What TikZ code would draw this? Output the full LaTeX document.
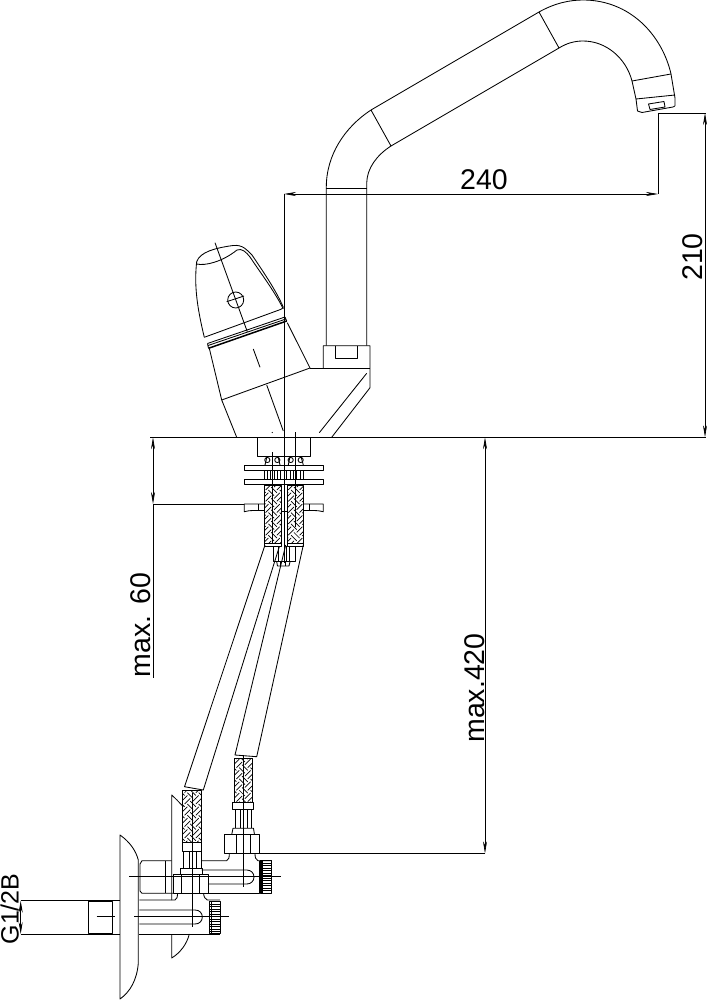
\documentclass[tikz,border=0pt]{standalone}
\usepackage{fontspec}
\setmainfont{Liberation Sans}
\usetikzlibrary{arrows.meta}
\tikzset{dimline/.style={line width=0.7pt,{Stealth[length=12pt,width=4pt]}-{Stealth[length=12pt,width=4pt]}},
  extline/.style={line width=0.7pt},
  weave/.style={line width=0.7pt},
  dimtext/.style={inner sep=0pt,anchor=base,font=\fontsize{28.5}{30}\selectfont}}
\newcommand{\braid}[4]{
  \begin{scope}
    \clip (#1,#2) rectangle (#3,#4);
    \begin{scope}[shift={({(#1+#3)/2},{(#2+#4)/2})},rotate=45]
      \foreach \i in {-5,...,5} \foreach \j in {-5,...,5} {
        \ifodd\numexpr\i+\j\relax
          \draw[weave] ({\i*8-4},{\j*8-2}) -- ++(8,0) ({\i*8-4},{\j*8+2}) -- ++(8,0);
        \else
          \draw[weave] ({\i*8-2},{\j*8-4}) -- ++(0,8) ({\i*8+2},{\j*8-4}) -- ++(0,8);
        \fi
      }
    \end{scope}
  \end{scope}
  \draw (#1,#2) rectangle (#3,#4);
}
\begin{document}
\begin{tikzpicture}[x=1pt,y=-1pt,line width=0.85pt,line join=round]
  \useasboundingbox (0,0) rectangle (706,1000);

  % spout
  \begin{scope}
    \draw (326.3,345.7) -- (326.3,188) .. controls (326,155) and (345,127) .. (371,110)
      -- (539,12) .. controls (555,3) and (570,0) .. (583,0) .. controls (630,0) and (662,35) .. (671,74)
      -- (675,98) -- (675,106);
    \draw (366.7,345.7) -- (366.7,183) .. controls (367,168) and (377,155) .. (391,146)
      -- (559,48) .. controls (567,43) and (575,41) .. (583,41) .. controls (606,41) and (626,58) .. (632,81)
      -- (636,99);
    \draw (326.3,188) -- (366.7,188);
    \draw (371,110) -- (391,146);
    \draw (539,12) -- (559,48);
    % aerator
    \draw (632,81) -- (671,74);
    \draw (636,99) -- (675,95);
    \draw (636,99) -- (637.5,111) -- (642,112.5) -- (673,107) -- (675,106);
    \draw (648.5,104) -- (664,101.5) -- (665,107) -- (650,109.5) -- cycle;
  \end{scope}

  % handle
  \begin{scope}
    \draw (204.3,337.3) .. controls (197,307) and (194,285) .. (196.7,261.7)
      .. controls (200,252) and (215,248) .. (233,245.5) .. controls (243,244.5) and (247,250) .. (252,255)
      .. controls (262,270) and (276,290) .. (283.3,307.3);
    \draw (196.7,264) .. controls (205,266) and (222,262) .. (237,250) .. controls (242,248) and (246,252) .. (250,257)
      .. controls (262,275) and (275,292) .. (283.3,309);
    \draw (204.3,337.3) -- (281,309.3) -- (283.3,307.3);
    \draw (215,242.7) -- (247.3,331.7);
    \draw (235.7,300) circle (8);
    \draw (226.7,301.7) -- (244,296);
    % rings
    \draw (207.5,343.5) -- (285,317);
    \draw (208,345.5) -- (286,319);
    \draw[line width=1.5pt] (208.5,348.3) -- (286.7,321);
    \draw (207.5,343.5) -- (208.5,348.3);
    \draw (285,317) -- (286.7,321);
    % body
    \draw (209.3,348.3) -- (221.7,400) -- (236.7,437.3);
    \draw (287.3,322.7) -- (310,368);
    \draw (221.7,400) -- (310,368);
    \draw (253.3,349) -- (260,367.3);
    \draw (266.7,385) -- (283.3,431);
    \fill (272.3,432.5) circle (0.6);
  \end{scope}

  % base with nut
  \begin{scope}
    \draw (323.3,368) -- (323.3,345.7) -- (370,345.7) -- (370,387.7) -- (331.7,437.3);
    \draw (335.7,345.7) -- (335.7,358) -- (357.7,358) -- (357.7,345.7);
    \draw (310,368) -- (370,368);
    \draw (366.7,373.3) -- (319.3,432.7);
  \end{scope}

  % under the deck
  \begin{scope}
    \draw (257.5,437.3) -- (257.5,456) -- (310.5,456) -- (310.5,437.3);
    \draw (244.3,465) rectangle (323.3,470);
    \draw (244.3,479.3) rectangle (323.3,484.3);
    \foreach \x in {267.3,277.3,290.7,300.7} {
      \draw (\x,460) circle (2.6);
    }
    \draw (265,465) -- (267,456.5) (280,465) -- (278,456.5);
    \draw (288.3,465) -- (290,456.5) (303.3,465) -- (301,456.5);
    \foreach \x in {264.3,267.3,270.7,274.3,277.3,280.7,286.7,290,293.3,296.7,300,303.3} {
      \draw (\x,470) -- (\x,479.3);
    }
    % hose ends
    \braid{264.3}{485}{281}{543}
    \braid{287.3}{485}{303.3}{543}
    \draw (264.3,543) -- (264.3,546) -- (281,546) -- (281,543);
    \draw (287.3,543) -- (287.3,546) -- (303.3,546) -- (303.3,543);
    % wing nut
    \draw (264.3,504) -- (244.3,504) -- (244.3,511.7) .. controls (250,510) and (256,510.5) .. (264.3,510.5);
    \draw (258,504) -- (258,510.5);
    \draw (303.3,504) -- (323.3,504) -- (323.3,511.7) .. controls (317,510) and (311,510.5) .. (303.3,510.5);
    \draw (309.5,504) -- (309.5,510.5);
    \draw (281,511.7) -- (287.3,511.7);
    % stud
    \draw (273.3,546) -- (273.3,561.7) -- (295,561.7) -- (295,546);
    \draw (278.3,546) -- (278.3,561.7);
    \draw (286,546) -- (286,561.7);
    \draw (289.3,546) -- (289.3,561.7);
    \draw (276.7,561.7) -- (277.5,566) -- (289,566) -- (290,561.7);
    \draw (280.5,561.7) -- (280.5,566) (285.5,561.7) -- (285.5,566);
    % axes
    \draw[extline] (272.3,452) -- (272.3,543);
    \draw[extline] (295.3,432) -- (295.3,527);
  \end{scope}

  % hoses
  \begin{scope}
    \draw (265,545) -- (184.5,786.7) -- (203.3,790) -- (279.3,546.7);
    \draw (285.7,545) -- (235,755) -- (256.7,756.7) -- (303.3,545);
    \braid{182.3}{790.7}{201}{842.7}
    \braid{234.3}{758}{252.7}{802.7}
  \end{scope}

  % upper fitting
  \begin{scope}
    \draw (232.7,802.7) rectangle (253.3,809);
    \foreach \x in {235,240,247,251} {
      \draw (\x,809) -- (\x,828.3);
    }
    \draw (231.7,834.7) -- (233,828.3) -- (253.5,828.3) -- (254.5,834.7);
    \draw (224.7,834.7) rectangle (259.3,853.3);
    \draw (236,834.7) -- (236,853.3) (250,834.7) -- (250,853.3);
    % valve body
    \draw (201.7,860.7) -- (226.7,860.7) .. controls (229,860) and (229.3,857) .. (229.3,853.3);
    \draw (255,853.3) .. controls (255,857) and (255.5,860) .. (258,860.7) -- (271.7,860.7);
    \draw (259.5,860.7) -- (259.5,893.3) -- (208,893.3);
    \draw (201.7,870) -- (246.7,870) .. controls (251,870) and (254,873) .. (254,877)
      .. controls (254,881) and (251,884) .. (246.7,884) -- (208.3,884);
    \draw (260,860.7) rectangle (271.7,893.3);
    \foreach \y in {863,865.5,...,892} {
      \draw[extline] (261,\y) -- (271.7,\y);
    }
    \draw[line width=1.3pt] (262,860.7) -- (262,893.3);
  \end{scope}

  % lower fitting
  \begin{scope}
    \draw (182.3,842.7) rectangle (201.7,851);
    \foreach \x in {183,189,196,201} {
      \draw (\x,851) -- (\x,868);
    }
    \draw (180,874.3) -- (180,868) -- (202,868) -- (202,874.3);
    \draw (173.3,874.3) rectangle (208.3,893.3);
    \draw (181.7,874.3) -- (181.7,893.3) (199,874.3) -- (199,893.3);
    % male thread
    \draw (171.7,860.7) -- (142,860.7) -- (140,864) -- (140,891) -- (142,893.3) -- (173.3,893.3);
    \draw (165,860.7) -- (165,893.3);
    % valve body
    \draw (139.3,900) -- (175,900) .. controls (177,899) and (177.5,897) .. (177.5,893.3);
    \draw (203.5,893.3) .. controls (204,897) and (205,899) .. (207.3,900) -- (220,900);
    \draw (139.3,934) -- (220,934);
    \draw (139.3,910) -- (195,910) .. controls (199.5,910) and (202.3,913) .. (202.3,917)
      .. controls (202.3,921) and (199.5,924) .. (195,924) -- (139.3,924);
    \draw (209,901.7) rectangle (220,933.3);
    \foreach \y in {904,906.5,...,932} {
      \draw[extline] (210,\y) -- (220,\y);
    }
    \draw[line width=1.3pt] (211.5,901.7) -- (211.5,933.3);
    % pipe
    \draw (20.7,900.7) -- (120,900.7) (20.7,934) -- (120,934);
    \draw (88.3,901.7) rectangle (112.7,933.3);
    \draw[line width=1.3pt] (88.3,901.7) -- (88.3,933.3);
    % escutcheons
    \draw (120,835) .. controls (130,842) and (136,851) .. (138.3,860) -- (138.3,963)
      .. controls (137,980) and (130,992) .. (120,999) -- cycle;
    \draw (183.3,806.7) .. controls (179,802) and (175,798) .. (171.7,795) -- (171.7,900);
    \draw (171.7,934) -- (171.7,958) .. controls (180,953) and (187,944) .. (189.3,934);
    % axes
    \draw[extline] (129.3,876.7) -- (280.7,876.7);
    \draw[extline] (96.7,916.7) -- (115,916.7);
    \draw[extline] (134.3,916.7) -- (229.3,916.7);
    \draw[extline] (192.3,793) -- (192.3,927);
    \draw[extline] (243.3,755) -- (243.3,886.7);
  \end{scope}

  % dimensions
  \coordinate (deckL) at (150,437.3);
  \coordinate (deckR) at (706,437.3);
  \coordinate (aerator) at (658,113);
  \coordinate (axisTop) at (284,194);
  \coordinate (axisEnd) at (284,563);
  \draw[extline] (deckL) -- (deckR);
  \draw[extline] (axisTop) -- (axisEnd);
  \draw[dimline] (axisTop) -- (658,194);
  \draw[extline] (aerator) -- (658,194);
  \draw[extline] (aerator) -- (706,113);
  \draw[dimline] (705,113) -- (705,437.3);
  \draw[extline] (153,504) -- (244.3,504);
  \draw[dimline] (153,437.3) -- (153,504);
  \draw[extline] (153,504) -- (153,678);
  \draw[extline] (259.3,853.3) -- (485,853.3);
  \draw[dimline] (485,437.3) -- (485,853.3);
  \draw[dimline] (20.7,900.7) -- (20.7,934);

  \node[dimtext] (len) at (484,190) {240};
  \node[dimtext,rotate=90] (height) at (702,257) {210};
  \node[dimtext,rotate=90] (depth) at (150,625) {max. 60};
  \node[dimtext,rotate=90] (total) at (484,688) {max.420};
  \node[dimtext,rotate=90,font=\fontsize{25}{27}\selectfont] (thread) at (18.5,909) {G1/2B};
\end{tikzpicture}
\end{document}
